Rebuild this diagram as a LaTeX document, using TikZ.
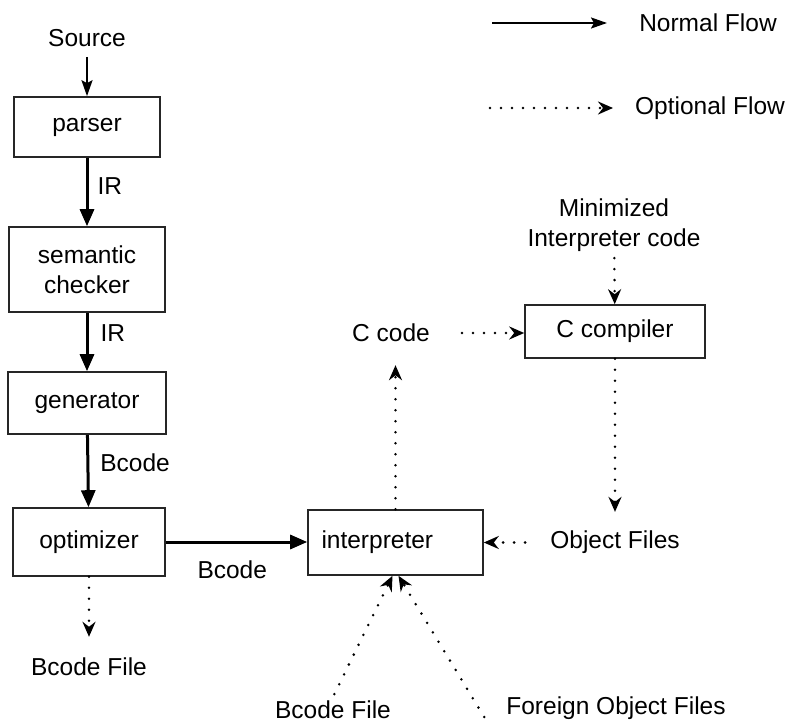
\documentclass[tikz,border=0pt]{standalone}
\usepackage{fontspec}
\setmainfont{Liberation Sans}
\usetikzlibrary{arrows.meta,calc}

\begin{document}
\begin{tikzpicture}[x=1pt,y=-1pt,
every node/.style={font=\fontsize{24.5}{30}\selectfont,inner sep=4pt},
box/.style={draw=black!85,line width=1.6pt,inner sep=0pt,align=center},
flow/.style={line width=3pt,-{Triangle[length=17pt,width=14pt]}},
thinflow/.style={line width=2.2pt,-{Stealth[length=16pt,width=11pt,inset=3pt]}},
optflow/.style={line width=2.8pt,line cap=round,dash pattern=on 0pt off 11pt,
  -{Stealth[length=15pt,width=13pt,inset=5pt]}}]
\useasboundingbox (0,0) rectangle (788,725);
% legend
\coordinate (nfa) at (492,23);
\coordinate (nfb) at (607,23);
\node (nflow) at (708,23) {Normal Flow};
\draw[thinflow] (nfa) -- (nfb);
\coordinate (ofa) at (490,108);
\coordinate (ofb) at (613,108);
\node (oflow) at (710,108) {Optional Flow};
\draw[optflow] (ofa) -- (ofb);
% left column
\node (src) at (87,38) {Source};
\node (parser) at (87,127)[box,minimum width=146pt,minimum height=60pt] {parser};
\node (sem) at (87,269.5)[box,minimum width=156pt,minimum height=85pt] {semantic\\checker};
\node (gen) at (87,403)[box,minimum width=158pt,minimum height=62pt] {generator};
\node (opt) at (89,542)[box,minimum width=152pt,minimum height=68pt] {optimizer};
\node (bfa) at (89,667) {Bcode File};
\draw[thinflow,shorten <=6pt] (src) -- (parser);
\draw[flow] (parser) -- node[right,pos=0.42,xshift=5pt] {IR} (sem);
\draw[flow] (sem) -- node[right,pos=0.35,xshift=8pt] {IR} (gen);
\draw[flow] (gen) -- node[right,pos=0.39,xshift=7pt] {Bcode} (opt);
\draw[optflow,shorten >=17pt] (opt) -- (bfa);
% right part
\node (interp) at (395.5,542.5)[box,minimum height=65pt,text width=148pt,
  align=left,inner xsep=13.5pt] {interpreter};
\node (ccode) at (391,333) {C code};
\node (ccomp) at (615,331.5)[box,minimum width=180pt,minimum height=53pt] {C compiler};
\node (mini) at (614,225.5)[align=center] {Minimized\\Interpreter code};
\node (objf) at (615,542.5) {Object Files};
\node (bfb) at (333,710) {Bcode File};
\node (fof) at (616,708) {Foreign Object Files};
\draw[flow] (opt.east) -- node[below=13pt,pos=0.47] {Bcode} (opt.east -| interp.west);
\draw[optflow,shorten >=19pt] (interp.north) -- (interp.north |- ccode.south);
\draw[optflow,shorten <=28pt] (ccode.east) -- (ccode.east -| ccomp.west);
\draw[optflow,shorten <=2pt] (mini) -- (ccomp);
\draw[optflow,shorten >=15pt] (ccomp.south) -- (ccomp.south |- objf.north);
\draw[optflow,shorten <=21pt] (objf) -- (interp);
\draw[optflow,shorten <=3pt] (bfb.north) -- ([xshift=-3pt]interp.south);
\draw[optflow] ($(fof.west)+(-18,9)$) -- ([xshift=3pt]interp.south);
\end{tikzpicture}
\end{document}
